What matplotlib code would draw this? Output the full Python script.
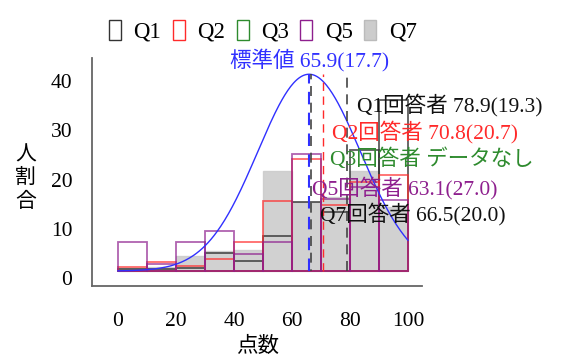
import numpy as np
import matplotlib
matplotlib.use("Agg")
import matplotlib.pyplot as plt
from matplotlib.patches import Rectangle

plt.rcParams['font.family'] = ['Liberation Serif', 'Noto Sans CJK JP', 'DejaVu Sans']

# 点数の階級 (10点刻み)
bin_left = [0, 10, 20, 30, 40, 50, 60, 70, 80, 90]
# 各設問の回答者割合 (%)
q1 = [0.4, 0.5, 0.6, 3.6, 2.1, 7.1, 14.0, 12.0, 24.6, 34.8]
q2 = [0.8, 1.8, 1.0, 2.4, 5.8, 14.3, 22.8, 13.5, 18.0, 19.5]
q5 = [5.8, 1.4, 5.8, 8.1, 3.5, 5.8, 23.8, 14.6, 17.0, 14.5]
q7 = [0.6, 0.9, 3.1, 4.1, 4.3, 20.4, 14.0, 15.1, 20.4, 13.0]

std_mean, std_sd = 65.9, 17.7
curve_peak = 40.0
means = {'Q1': 78.9, 'Q2': 70.8, 'Q7': 66.5}
labels = ['Q1回答者 78.9(19.3)', 'Q2回答者 70.8(20.7)', 'Q3回答者 データなし',
          'Q5回答者 63.1(27.0)', 'Q7回答者 66.5(20.0)']

c_q1 = '#333333'
c_q2 = '#ff2a2a'
c_q3 = '#2e8b2e'
c_q5 = '#8e1f8e'
c_q7 = '#cccccc'

fig = plt.figure(figsize=(5.74, 3.58), dpi=100)
ax = fig.add_axes([0.160, 0.201, 0.575, 0.637])

ax.bar(bin_left, q7, width=10, align='edge', color=c_q7, alpha=0.9, edgecolor=c_q7, lw=1)
ax.bar(bin_left, q1, width=10, align='edge', fill=False, edgecolor=c_q1, alpha=0.8, lw=1.3)
ax.bar(bin_left, q2, width=10, align='edge', fill=False, edgecolor=c_q2, alpha=0.7, lw=1.3)
ax.bar(bin_left, q5, width=10, align='edge', fill=False, edgecolor=c_q5, alpha=0.7, lw=1.3)

x = np.linspace(0, 100, 300)
y = curve_peak * np.exp(-(x - std_mean) ** 2 / (2 * std_sd ** 2))
ax.plot(x, y, color='#3030ff', lw=1)

ax.vlines(std_mean, 0, 40, colors='#3030ff', linestyles=(0, (6, 4)), lw=1.5)
ax.vlines(means['Q7'], 0, 40, colors='#444444', linestyles=(5, (6, 4)), lw=1.2)
ax.vlines(means['Q2'], 0, 40, colors=c_q2, linestyles=(0, (6, 4)), lw=1)
ax.vlines(means['Q1'], 0, 40, colors='#444444', linestyles=(0, (6, 4)), lw=1.2)

fs = 15.5
ax.text(66, 42.8, '標準値 65.9(17.7)', color='#3030ff', ha='center', va='center', fontsize=fs)
ax.text(82.4, 33.7, labels[0], color='#111111', va='center', fontsize=fs)
ax.text(73.8, 28.3, labels[1], color=c_q2, va='center', fontsize=fs)
ax.text(73.1, 22.8, labels[2], color=c_q3, va='center', fontsize=fs)
ax.text(66.9, 16.9, labels[3], color=c_q5, va='center', fontsize=fs)
ax.text(69.7, 11.6, labels[4], color='#111111', va='center', fontsize=fs)

ax.set_xlim(-9, 104.8)
ax.set_ylim(-3.05, 43.3)
ax.set_xticks([0, 20, 40, 60, 80, 100])
ax.set_yticks([0, 10, 20, 30, 40])
ax.tick_params(length=0, labelsize=15.5)
ax.tick_params(axis='x', pad=19)
ax.tick_params(axis='y', pad=14)
plt.setp(ax.get_yticklabels(), va='top')
for s in ['top', 'right']:
    ax.spines[s].set_visible(False)
for s in ['left', 'bottom']:
    ax.spines[s].set_color('#666666')
    ax.spines[s].set_linewidth(1.3)

fig.text(0.044, 0.50, '人\n割\n合', ha='center', va='center', fontsize=15, linespacing=1.3)
fig.text(0.449, 0.032, '点数', ha='center', va='center', fontsize=15.5)

handles = [Rectangle((0, 0), 1, 1, fill=False, edgecolor=c_q1, lw=1),
           Rectangle((0, 0), 1, 1, fill=False, edgecolor=c_q2, lw=1),
           Rectangle((0, 0), 1, 1, fill=False, edgecolor=c_q3, lw=1),
           Rectangle((0, 0), 1, 1, fill=False, edgecolor=c_q5, lw=1),
           Rectangle((0, 0), 1, 1, facecolor=c_q7, edgecolor='#bbbbbb', lw=1)]
fig.legend(handles, ['Q1', 'Q2', 'Q3', 'Q5', 'Q7'], loc='center', bbox_to_anchor=(0.458, 0.913),
           ncol=5, frameon=False, fontsize=16.5, handlelength=0.52, handleheight=0.96,
           handletextpad=0.55, columnspacing=0.5)

fig.savefig('out.png', dpi=100)
